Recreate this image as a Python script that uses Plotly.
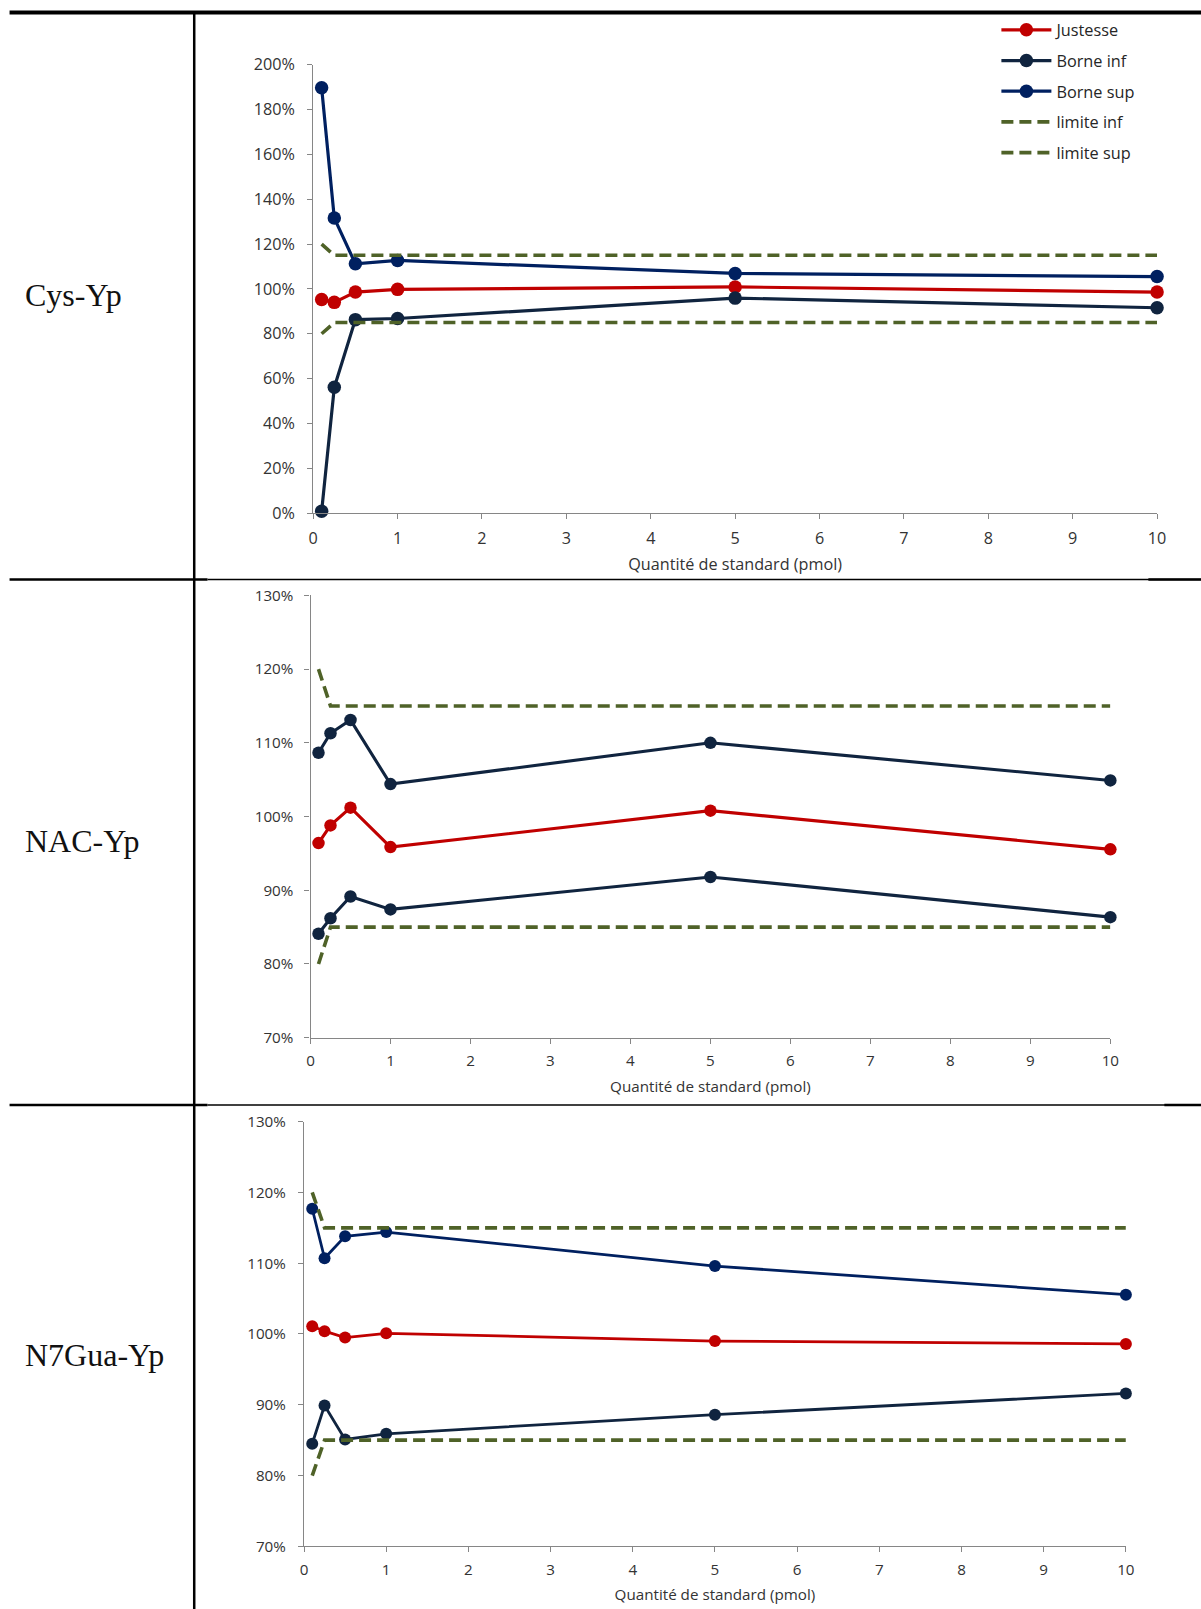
import plotly.graph_objects as go

W, H = 1201, 1609
# the photographed page is slightly reduced and shifted; positions below are
# expressed in the reference picture's pixels and mapped through this correction
SX, OXC = 0.9885, 4.5
SY, OYC = 0.9864, 10.7

# ---------------- data ----------------
quantite = [0.1, 0.25, 0.5, 1, 5, 10]
limite_inf = [80, 85, 85, 85, 85, 85]
limite_sup = [120, 115, 115, 115, 115, 115]

cys_justesse = [95.3, 94.0, 98.6, 99.8, 100.9, 98.6]
cys_borne_inf = [0.8, 56.1, 86.3, 86.8, 95.9, 91.6]
cys_borne_sup = [189.7, 131.6, 111.2, 112.7, 106.9, 105.5]

nac_justesse = [96.4, 98.8, 101.2, 95.85, 100.8, 95.55]
nac_borne_inf = [84.1, 86.2, 89.15, 87.4, 91.8, 86.35]
nac_borne_sup = [108.65, 111.3, 113.1, 104.4, 110.0, 104.9]

n7_justesse = [101.1, 100.4, 99.5, 100.1, 99.0, 98.6]
n7_borne_inf = [84.5, 89.9, 85.1, 85.9, 88.6, 91.6]
n7_borne_sup = [117.7, 110.7, 113.8, 114.4, 109.6, 105.55]

row_labels = ["Cys-Yp", "NAC-Yp", "N7Gua-Yp"]
x_title = "Quantité de standard (pmol)"
series_names = ["Justesse", "Borne inf", "Borne sup", "limite inf", "limite sup"]

# ---------------- styles ----------------
RED = "#C00000"
NAVY_DARK = "#10243F"
NAVY = "#002060"
OLIVE = "#4F6228"
AXIS = "#868686"
TXT = "#333333"
FONT = "Open Sans"


def px_x(x):
    return (x / SX - OXC) / W


def px_y(y):
    return 1 - (y / SY - OYC) / H


fig = go.Figure()

rows = [
    dict(just=cys_justesse, inf=cys_borne_inf, sup=cys_borne_sup, sup_color=NAVY,
         xdom=(312.7, 1156.7), ydom=(64.3, 512.7), yrange=[0, 200], dtick=20,
         fs=16.2, msize=13.5, lw=3.2, xstand=5, ystand=9, tstand=10),
    dict(just=nac_justesse, inf=nac_borne_inf, sup=nac_borne_sup, sup_color=NAVY_DARK,
         xdom=(310.0, 1110.0), ydom=(595.0, 1037.3), yrange=[70, 130], dtick=10,
         fs=15.2, msize=12.5, lw=3.1, xstand=4, ystand=8, tstand=12),
    dict(just=n7_justesse, inf=n7_borne_inf, sup=n7_borne_sup, sup_color=NAVY,
         xdom=(303.5, 1125.5), ydom=(1121.3, 1546.0), yrange=[70, 130], dtick=10,
         fs=15.2, msize=12, lw=2.8, xstand=4, ystand=9, tstand=11),
]

for i, r in enumerate(rows):
    n = "" if i == 0 else str(i + 1)
    xa, ya = "x" + n, "y" + n
    show = i == 0
    specs = [
        (series_names[0], r["just"], RED, None, True),
        (series_names[1], r["inf"], NAVY_DARK, None, True),
        (series_names[2], r["sup"], r["sup_color"], None, True),
        (series_names[3], limite_inf, OLIVE, "12px,6px", False),
        (series_names[4], limite_sup, OLIVE, "12px,6px", False),
    ]
    for name, vals, color, dash, mk in specs:
        fig.add_trace(go.Scatter(
            x=quantite, y=vals, name=name, xaxis=xa, yaxis=ya,
            mode="lines+markers" if mk else "lines",
            line=dict(color=color, width=r["lw"] if mk else 3.6, dash=dash),
            marker=dict(size=r["msize"], color=color, symbol="circle"),
            showlegend=show, legendgroup=name, cliponaxis=False,
        ))

    axis_common = dict(showline=True, linecolor=AXIS, linewidth=1.3,
                       ticks="outside", ticklen=5, tickcolor=AXIS, tickwidth=1.3,
                       showgrid=False, zeroline=False,
                       tickfont=dict(family=FONT, size=r["fs"], color=TXT))
    fig.layout["xaxis" + n] = dict(
        domain=[px_x(r["xdom"][0]), px_x(r["xdom"][1])],
        anchor=ya, range=[0, 10], dtick=1, tick0=0, ticklabelstandoff=r["xstand"],
        title=dict(text=x_title, font=dict(family=FONT, size=r["fs"], color=TXT),
                   standoff=r["tstand"]),
        **axis_common)
    fig.layout["yaxis" + n] = dict(
        domain=[px_y(r["ydom"][1]), px_y(r["ydom"][0])],
        anchor=xa, range=r["yrange"], dtick=r["dtick"], tick0=0, ticksuffix="%",
        ticklabelstandoff=r["ystand"],
        **axis_common)

# row labels
label_y = [295, 841, 1355]
for lab, yy in zip(row_labels, label_y):
    fig.add_annotation(text=lab, xref="paper", yref="paper", x=px_x(22), y=px_y(yy),
                       xanchor="left", yanchor="middle", showarrow=False,
                       font=dict(family="Liberation Serif", size=32, color="#111111"))

# table borders
def hline(y, x0, x1, w):
    fig.add_shape(type="line", xref="paper", yref="paper", x0=px_x(x0), x1=px_x(x1),
                  y0=px_y(y), y1=px_y(y), line=dict(color="black", width=w))

hline(12, 9, 1215, 4)
fig.add_shape(type="line", xref="paper", yref="paper", x0=px_x(193.7), x1=px_x(193.7),
              y0=px_y(12), y1=px_y(1630), line=dict(color="black", width=2.5))
for yy, xr in [(579, 1148), (1104.7, 1164)]:
    hline(yy, 9, 207, 2.5)
    hline(yy, 207, 1215, 1.5)
    hline(yy, xr, 1215, 2.5)

fig.update_layout(
    width=W, height=H, margin=dict(l=0, r=0, t=0, b=0),
    paper_bgcolor="white", plot_bgcolor="white",
    showlegend=True,
    legend=dict(x=px_x(996), y=px_y(12.3), xanchor="left", yanchor="top",
                font=dict(family=FONT, size=16.3, color="#262626"),
                tracegroupgap=6.5, itemwidth=50, bgcolor="rgba(0,0,0,0)"),
)

fig.write_html(
    "out.html",
    config={"displayModeBar": False},
    post_script="document.body.style.margin='0';document.body.style.overflow='hidden';"
                "document.documentElement.style.overflow='hidden';",
)
